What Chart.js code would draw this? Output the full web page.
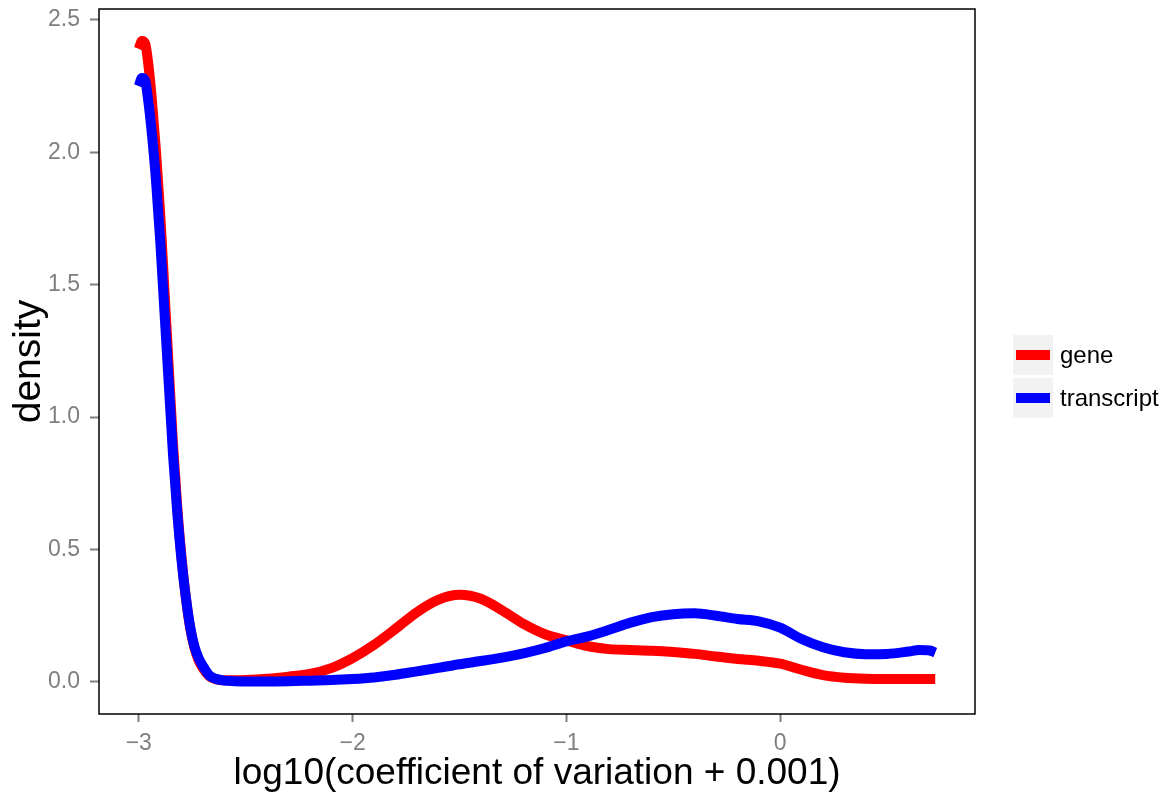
<!DOCTYPE html>
<html>
<head>
<meta charset="utf-8">
<title>CV density: gene vs transcript</title>
<script src="https://cdn.jsdelivr.net/npm/chart.js@4/dist/chart.umd.min.js"></script>
<style>
  body { margin: 0; background: #fff; }
  #wrap { position: relative; width: 1170px; height: 798px; }
  #legend { position: absolute; left: 1013px; top: 335px; font: 24px 'Liberation Sans', Arial, sans-serif; color: #000; }
  .key-row { display: flex; align-items: center; height: 40px; margin-bottom: 3px; }
  .key { width: 40px; height: 40px; background: #f2f2f2; position: relative; margin-right: 7px; }
  .key span { position: absolute; left: 3px; right: 3px; top: 15px; height: 10px; }
</style>
</head>
<body>
<div id="wrap">
  <canvas id="density-chart" width="1170" height="798"></canvas>
  <div id="legend"></div>
</div>
<script>
/* Density of log10(CV + 0.001), genes vs transcripts */
const logCv = [
  -3.0, -2.985, -2.97, -2.955, -2.94, -2.92, -2.90, -2.88, -2.86, -2.84,
  -2.82, -2.80, -2.78, -2.76, -2.74, -2.72, -2.70, -2.67, -2.64, -2.60,
  -2.55, -2.5, -2.4, -2.3, -2.2, -2.1, -2.0, -1.9, -1.8, -1.7,
  -1.6, -1.5, -1.4, -1.3, -1.2, -1.1, -1.0, -0.9, -0.8, -0.7,
  -0.6, -0.5, -0.4, -0.3, -0.2, -0.1, 0.0, 0.1, 0.2, 0.3,
  0.4, 0.5, 0.6, 0.65, 0.7, 0.725
];
const geneDensity = [
  2.39, 2.42, 2.41, 2.33, 2.21, 2.01, 1.77, 1.48, 1.19, 0.90,
  0.66, 0.47, 0.32, 0.205, 0.13, 0.082, 0.052, 0.022, 0.010, 0.006,
  0.006, 0.007, 0.012, 0.020, 0.030, 0.052, 0.090, 0.140, 0.200, 0.263,
  0.310, 0.329, 0.314, 0.270, 0.219, 0.180, 0.157, 0.135, 0.124, 0.121,
  0.118, 0.113, 0.106, 0.096, 0.087, 0.080, 0.069, 0.046, 0.026, 0.016,
  0.012, 0.011, 0.011, 0.011, 0.011, 0.011
];
const transcriptDensity = [
  2.25, 2.28, 2.27, 2.19, 2.08, 1.90, 1.67, 1.40, 1.13, 0.86,
  0.64, 0.46, 0.32, 0.21, 0.135, 0.09, 0.06, 0.025, 0.012, 0.005,
  0.003, 0.002, 0.002, 0.003, 0.005, 0.007, 0.011, 0.017, 0.027, 0.040,
  0.053, 0.067, 0.079, 0.092, 0.108, 0.128, 0.153, 0.172, 0.197, 0.224,
  0.245, 0.256, 0.259, 0.250, 0.238, 0.229, 0.205, 0.162, 0.131, 0.112,
  0.105, 0.106, 0.115, 0.121, 0.119, 0.111
];
const seriesNames  = ['gene', 'transcript'];
const seriesColors = ['#ff0000', '#0000ff'];
const xTicks = [-3, -2, -1, 0];
const yTicks = [0, 0.5, 1, 1.5, 2, 2.5];

const FONT = "'Liberation Sans', Arial, Helvetica, sans-serif";
const GREY = '#7f7f7f';

const toPoints = ys => logCv.map((x, i) => ({ x, y: ys[i] }));

// black box round the panel, drawn over the curves like ggplot's panel.border
const panelBorder = {
  id: 'panelBorder',
  afterDraw(chart) {
    const { ctx, chartArea: a } = chart;
    ctx.save();
    ctx.strokeStyle = '#000';
    ctx.lineWidth = 1.5;
    ctx.strokeRect(a.left, a.top, a.right - a.left, a.bottom - a.top);
    ctx.restore();
  }
};

new Chart(document.getElementById('density-chart'), {
  type: 'line',
  data: {
    datasets: [
      { label: seriesNames[0], data: toPoints(geneDensity), borderColor: seriesColors[0], order: 1 },
      { label: seriesNames[1], data: toPoints(transcriptDensity), borderColor: seriesColors[1], order: 0 },
    ].map(d => ({
      ...d, borderWidth: 10, pointRadius: 0, fill: false,
      cubicInterpolationMode: 'monotone', borderCapStyle: 'butt', borderJoinStyle: 'round'
    }))
  },
  options: {
    responsive: false, animation: false,
    layout: { padding: { left: 0, top: 9, right: 195, bottom: 0 } },
    plugins: { legend: { display: false }, tooltip: { enabled: false } },
    scales: {
      x: {
        type: 'linear', min: -3.186, max: 0.911,
        afterBuildTicks: s => { s.ticks = xTicks.map(value => ({ value })); },
        afterFit: s => { s.height = 84; s.paddingLeft = 0; s.paddingRight = 0; },
        ticks: {
          color: GREY, font: { family: FONT, size: 23 }, padding: 8, maxRotation: 0,
          callback: v => v < 0 ? '\u2212' + Math.abs(v) : String(v)
        },
        grid: { drawOnChartArea: false, tickLength: 8, tickWidth: 2, tickColor: GREY },
        border: { display: false },
        title: {
          display: true, text: 'log10(coefficient of variation + 0.001)', color: '#000',
          font: { family: FONT, size: 37 }, padding: { top: 0, bottom: 2 }
        }
      },
      y: {
        min: -0.121, max: 2.541,
        afterBuildTicks: s => { s.ticks = yTicks.map(value => ({ value })); },
        afterFit: s => { s.width = 99; s.paddingTop = 0; s.paddingBottom = 0; },
        ticks: {
          color: GREY, font: { family: FONT, size: 23 }, padding: 10,
          callback: v => v.toFixed(1)
        },
        grid: { drawOnChartArea: false, tickLength: 9, tickWidth: 2, tickColor: GREY },
        border: { display: false },
        title: {
          display: true, text: 'density', color: '#000',
          font: { family: FONT, size: 39 }, padding: { top: 6, bottom: 0 }
        }
      }
    }
  },
  plugins: [panelBorder]
});

// legend keys on grey tiles, to the right of the panel
document.getElementById('legend').innerHTML = seriesNames.map((name, i) =>
  `<div class="key-row"><div class="key"><span style="background:${seriesColors[i]}"></span></div>${name}</div>`
).join('');
</script>
</body>
</html>
